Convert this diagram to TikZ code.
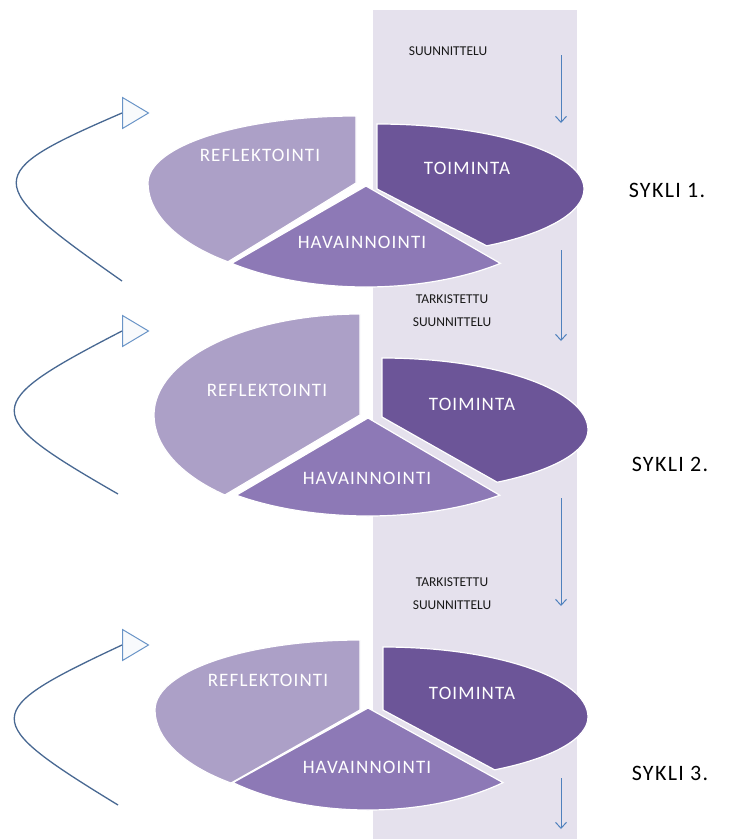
\documentclass[tikz,border=0pt]{standalone}
\usepackage{fontspec}
\setmainfont{Carlito}
\newfontfamily\widefont[LetterSpace=6]{Carlito}
\usetikzlibrary{arrows.meta,shapes.geometric}
\definecolor{band}{RGB}{229,225,237}
\definecolor{refl}{RGB}{172,160,199}
\definecolor{hav}{RGB}{141,121,182}
\definecolor{toim}{RGB}{108,85,152}
\definecolor{arrowblue}{RGB}{79,129,189}
\definecolor{curveblue}{RGB}{72,104,146}
\begin{document}
\begin{tikzpicture}[x=1pt,y=-1pt]
        \tikzstyle{slice}=[draw=white,line width=1.2pt]
        \tikzstyle{lbl}=[text=white,font=\widefont\fontsize{19}{19}\selectfont]
        \tikzstyle{plan}=[text=black!90,font=\fontsize{13.5}{23}\selectfont,align=center,inner sep=0pt]
        \tikzstyle{cyc}=[font=\widefont\fontsize{22}{22}\selectfont]
        \tikzstyle{down}=[draw=arrowblue,line width=1pt,-{Straight Barb[length=6pt,width=11pt]}]
        \tikzstyle{turn}=[draw=curveblue,line width=1.3pt]
        \tikzstyle{opentri}=[isosceles triangle,isosceles triangle stretches,draw=arrowblue!85,fill=arrowblue!4,line width=1pt,minimum width=31pt,minimum height=26pt,inner sep=0pt,anchor=lower side]
        \useasboundingbox (0,0) rectangle (744,839);
        \fill[band] (373,10) rectangle (577,839);
       \begin{scope}
         \fill[refl,slice] (356,183) -- (356,116) arc[start angle=270,end angle=180,x radius=208,y radius=67] arc[start angle=180,end angle=128,x radius=208,y radius=100] -- cycle;
         \fill[hav,slice] (366,186) -- ++(130:209 and 101) arc[start angle=130,end angle=50,x radius=209,y radius=101] -- cycle;
         \fill[toim,slice] (377,189) -- (377,124) arc[start angle=270,end angle=360,x radius=207,y radius=65] arc[start angle=0,end angle=58,x radius=207,y radius=67] -- cycle;
         \node [lbl] (r1) at (260,155) {REFLEKTOINTI};
         \node [lbl] (t1) at (467,168) {TOIMINTA};
         \node [lbl] (h1) at (362,242) {HAVAINNOINTI};
         \node [cyc] (c1) at (667,190) {SYKLI 1.};
         \node [opentri] (k1) at (122,113) {};
         \coordinate (b1) at (122,281);
         \path[turn] (b1) .. controls (-19,182) and (-19,174) .. (k1.lower side);
        \end{scope}
       \begin{scope}
         \fill[refl,slice] (360,415) -- (360,314) arc[start angle=270,end angle=180,x radius=206,y radius=101] arc[start angle=180,end angle=131,x radius=206,y radius=106] -- cycle;
         \fill[hav,slice] (368,418) -- ++(128:214 and 98) arc[start angle=128,end angle=52,x radius=214,y radius=98] -- cycle;
         \fill[toim,slice] (382,417) -- (382,358) arc[start angle=270,end angle=360,x radius=206,y radius=72] arc[start angle=0,end angle=56,x radius=206,y radius=63] -- cycle;
         \node [lbl] (r2) at (267,390) {REFLEKTOINTI};
         \node [lbl] (t2) at (472,404) {TOIMINTA};
         \node [lbl] (h2) at (367,478) {HAVAINNOINTI};
         \node [cyc] (c2) at (670,464) {SYKLI 2.};
         \node [opentri] (k2) at (122,331) {};
         \coordinate (b2) at (118,494);
         \path[turn] (b2) .. controls (-21,414) and (-21,405) .. (k2.lower side);
        \end{scope}
       \begin{scope}
         \fill[refl,slice] (360,710) -- (360,640) arc[start angle=270,end angle=180,x radius=205,y radius=70] arc[start angle=180,end angle=129,x radius=205,y radius=94] -- cycle;
         \fill[hav,slice] (368,708) -- ++(133:198 and 102) arc[start angle=133,end angle=47,x radius=198,y radius=102] -- cycle;
         \fill[toim,slice] (383,710) -- (383,647) arc[start angle=270,end angle=360,x radius=205,y radius=70] arc[start angle=0,end angle=57,x radius=205,y radius=63] -- cycle;
         \node [lbl] (r3) at (268,680) {REFLEKTOINTI};
         \node [lbl] (t3) at (472,693) {TOIMINTA};
         \node [lbl] (h3) at (367,767) {HAVAINNOINTI};
         \node [cyc] (c3) at (670,773) {SYKLI 3.};
         \node [opentri] (k3) at (122,645) {};
         \coordinate (b3) at (118,805);
         \path[turn] (b3) .. controls (-21,720) and (-21,712) .. (k3.lower side);
        \end{scope}
         \node [plan] (p1) at (448,51) {SUUNNITTELU};
         \node [plan] (p2) at (452,311) {TARKISTETTU\\SUUNNITTELU};
         \node [plan] (p3) at (452,594) {TARKISTETTU\\SUUNNITTELU};
         \coordinate (a1) at (561,55);
         \coordinate (a2) at (561,123);
         \coordinate (a3) at (561,250);
         \coordinate (a4) at (561,341);
         \coordinate (a5) at (561,498);
         \coordinate (a6) at (561,606);
         \coordinate (a7) at (561,778);
         \coordinate (a8) at (561,829);
         \path[down] (a1) -- (a2);
         \path[down] (a3) -- (a4);
         \path[down] (a5) -- (a6);
         \path[down] (a7) -- (a8);
      \end{tikzpicture}
\end{document}
